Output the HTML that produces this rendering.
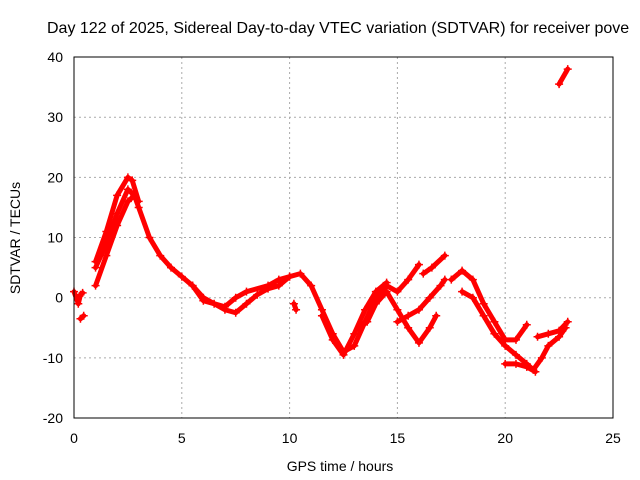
<!DOCTYPE html>
<html><head><meta charset="utf-8"><style>
body{margin:0;background:#fff;}
svg{display:block;font-family:"Liberation Sans",sans-serif;}
</style></head><body>
<svg id="chart" width="640" height="480">
<text x="47" y="33" font-size="16">Day 122 of 2025, Sidereal Day-to-day VTEC variation (SDTVAR) for receiver pove</text>
<g id="grid"></g>
<g id="ticks" font-size="14"></g>
<g id="series"></g>
<rect x="74" y="57" width="539" height="361" fill="none" stroke="#000" stroke-width="1"/>
<text x="340" y="471" font-size="14" text-anchor="middle">GPS time / hours</text>
<text x="20" y="238" font-size="14" text-anchor="middle" transform="rotate(-90 20 238)">SDTVAR / TECUs</text>
</svg>
<script>
const xTicks=[0,5,10,15,20,25];
const yTicks=[-20,-10,0,10,20,30,40];
const trackA=[[1.0,2],[1.5,7],[2.0,12],[2.5,16],[2.8,17],[3.0,15],[3.5,10],[4,7],[4.5,5],[5,3.5],[5.5,2],[6,0],[6.5,-1],[7,-2],[7.5,-2.5],[8,-1],[8.5,0.5],[9,1.5],[9.5,2],[10,3.5],[10.5,4],[11,2],[11.5,-2],[12,-6],[12.5,-9],[13,-8],[13.5,-4],[14,0],[14.5,2],[15,1],[15.5,3],[16,5.5]];
const trackB=[[1,6],[1.5,11],[2,17],[2.5,20],[2.7,19.5],[3,16]];
const trackC=[[1,5],[1.5,9],[2,14],[2.5,18],[2.8,17]];
const trackD=[[5.5,2],[6,-0.5],[7,-1.5],[7.5,0],[8,1],[9,2],[9.5,3],[10,3.5]];
const trackE=[[11.5,-3],[12,-7],[12.5,-9.5],[13,-6],[13.5,-2],[14,1],[14.5,2.5]];
const trackF=[[13.2,-5],[13.6,-4],[14,-1],[14.5,1],[15,-2],[15.5,-5],[16,-7.5],[16.5,-5],[16.8,-3]];
const trackG=[[15,-4],[15.5,-3],[16,-2],[16.5,0],[17,2],[17.2,3]];
const trackH=[[16.2,4],[16.6,5],[17.2,7]];
const trackI=[[17.5,3],[18,4.5],[18.5,3],[19,-1],[19.5,-4],[20,-7],[20.5,-7],[21,-4.5]];
const trackJ=[[18,1],[18.5,0],[19,-3],[19.5,-6],[20,-8],[20.5,-9.5],[21,-11],[21.3,-12],[21.7,-10],[22,-8],[22.5,-6.5],[22.8,-5]];
const trackK=[[20,-11],[20.5,-11],[21,-11.5],[21.4,-12.3]];
const trackL=[[21.5,-6.5],[22,-6],[22.5,-5.5],[22.9,-4]];
const trackM=[[22.5,35.5],[22.9,38]];
const trackN=[[0,1],[0.2,-1],[0.3,0.5],[0.4,0.8]];
const trackO=[[0.3,-3.5],[0.45,-3]];
const trackP=[[10.2,-1],[10.3,-2]];
const tracks=[trackA,trackB,trackC,trackD,trackE,trackF,trackG,trackH,trackI,trackJ,trackK,trackL,trackM,trackN,trackO,trackP];
const X=v=>74+v*(539/25), Y=v=>297.7-v*(361/60);
const NS='http://www.w3.org/2000/svg';
const grid=document.getElementById('grid'),tk=document.getElementById('ticks'),sg=document.getElementById('series');
function mk(tag,attrs,parent){const e=document.createElementNS(NS,tag);for(const k in attrs)e.setAttribute(k,attrs[k]);parent.appendChild(e);return e;}
xTicks.forEach(t=>{
  if(t>0&&t<25){const l=mk('line',{x1:X(t),x2:X(t),y1:57,y2:418,stroke:'#aaa','stroke-dasharray':'2,3'},grid);
  
  }
  const tx=mk('text',{x:X(t),y:443,'text-anchor':'middle'},tk);tx.textContent=t;
  
  
});
yTicks.forEach(t=>{
  if(t>-20&&t<40){const l=mk('line',{x1:74,x2:613,y1:Y(t),y2:Y(t),stroke:'#aaa','stroke-dasharray':'2,3'},grid);
  
  }
  const tx=mk('text',{x:63,y:Y(t)+5,'text-anchor':'end'},tk);tx.textContent=t;
  
  
});
tracks.forEach(tr=>{
  const p=mk('polyline',{points:tr.map(d=>X(d[0])+','+Y(d[1])).join(' '),fill:'none',stroke:'#f00','stroke-width':5,'stroke-linejoin':'round','stroke-linecap':'round'},sg);
  
  
  tr.forEach(d=>{
    const m=mk('path',{d:`M${X(d[0])-4},${Y(d[1])}h8M${X(d[0])},${Y(d[1])-4}v8`,stroke:'#f00','stroke-width':1.5},sg);
    
    
  });
});
</script>
</body></html>
